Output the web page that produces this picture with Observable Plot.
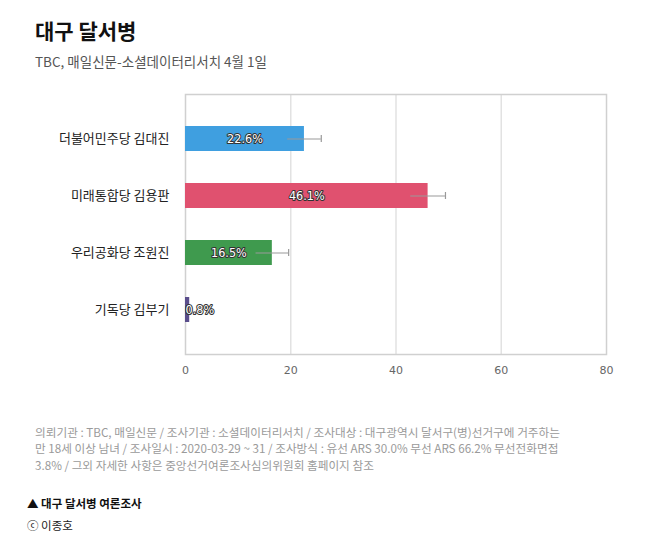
<!DOCTYPE html>
<html>
<head>
<meta charset="utf-8">
<script src="https://cdn.jsdelivr.net/npm/d3@7"></script>
<script src="https://cdn.jsdelivr.net/npm/@observablehq/plot@0.6"></script>
<style>
  body { margin:0; background:#fff; font-family:"Noto Sans CJK KR","Noto Sans",sans-serif; width:654px; height:543px; position:relative; overflow:hidden; }
  .abs { position:absolute; white-space:nowrap; }
  #title { left:35px; top:15px; font-size:21px; font-weight:700; color:#111; }
  #subtitle { left:35px; top:51px; font-size:13.5px; color:#555; }
  #chart { left:0; top:80px; }
  #note { left:35px; top:424px; font-size:11.65px; line-height:16.3px; color:#9a9a9a; }
  #src { left:27px; top:495px; font-size:11.5px; font-weight:700; color:#111; }
  #copy { left:27px; top:517px; font-size:11.5px; color:#222; }
</style>
</head>
<body>
<div id="title" class="abs">대구 달서병</div>
<div id="subtitle" class="abs">TBC, 매일신문-소셜데이터리서치 4월 1일</div>
<div id="chart" class="abs"></div>
<div id="note" class="abs">의뢰기관 : TBC, 매일신문 / 조사기관 : 소셜데이터리서치 / 조사대상 : 대구광역시 달서구(병)선거구에 거주하는<br>만 18세 이상 남녀 / 조사일시 : 2020-03-29 ~ 31 / 조사방식 : 유선 ARS 30.0% 무선 ARS 66.2% 무선전화면접<br>3.8% / 그외 자세한 사항은 중앙선거여론조사심의위원회 홈페이지 참조</div>
<div id="src" class="abs">▲ 대구 달서병 여론조사</div>
<div id="copy" class="abs">ⓒ 이종호</div>
<script>
const candidates = ["더불어민주당 김대진", "미래통합당 김용판", "우리공화당 조원진", "기독당 김부기"];
const values = [22.6, 46.1, 16.5, 0.8];
const margins = [3.2, 3.3, 3.1, 0];
const colors = ["#3f9fe0", "#e0516f", "#3f9a4e", "#5a4e8c"];
const xTicks = [0, 20, 40, 60, 80];

const data = candidates.map((c, i) => ({
  name: c, value: values[i], moe: margins[i], color: colors[i],
  lo: values[i] - margins[i], hi: values[i] + margins[i],
  label: values[i].toFixed(1) + "%"
}));

const labelFont = "'DejaVu Sans Condensed', 'DejaVu Sans', sans-serif";

const chart = Plot.plot({
  width: 654,
  height: 305,
  marginLeft: 185,
  marginRight: 48,
  marginTop: 14,
  marginBottom: 31,
  style: { fontFamily: "'Noto Sans CJK KR', 'DejaVu Sans', sans-serif", background: "transparent" },
  x: { domain: [0, 80], ticks: xTicks, label: null },
  y: { domain: candidates, label: null, padding: 0.56 },
  marks: [
    Plot.gridX(xTicks.slice(1, -1), { stroke: "#e2e2e2", strokeOpacity: 1, strokeWidth: 1.5 }),
    Plot.frame({ stroke: "#d0d0d0", strokeWidth: 1.5 }),
    Plot.axisX({ ticks: xTicks, tickSize: 0, tickPadding: 12, fontSize: 11, fill: "#666", fontFamily: "DejaVu Sans", label: null }),
    Plot.axisY({ tickSize: 0, tickPadding: 16, fontSize: 13, fill: "#222", label: null }),
    Plot.barX(data, { x: "value", y: "name", fill: "color" }),
    Plot.ruleY(data.filter(d => d.moe > 0), { y: "name", x1: "lo", x2: "hi", stroke: "#999", strokeWidth: 1.2 }),
    Plot.tickX(data.filter(d => d.moe > 0), { x: "hi", y: "name", stroke: "#999", strokeWidth: 1.2, inset: 9 }),
    Plot.text(data.filter(d => d.value >= 5), { x: d => d.value / 2, y: "name", text: "label", fill: "white", stroke: "#333", strokeWidth: 2, paintOrder: "stroke", fontSize: 12.5, fontFamily: labelFont }),
    Plot.text(data.filter(d => d.value < 5), { x: 0, y: "name", text: "label", textAnchor: "start", fill: "white", stroke: "#333", strokeWidth: 2, paintOrder: "stroke", fontSize: 12.5, fontFamily: labelFont })
  ]
});
document.getElementById("chart").appendChild(chart);
</script>
</body>
</html>
